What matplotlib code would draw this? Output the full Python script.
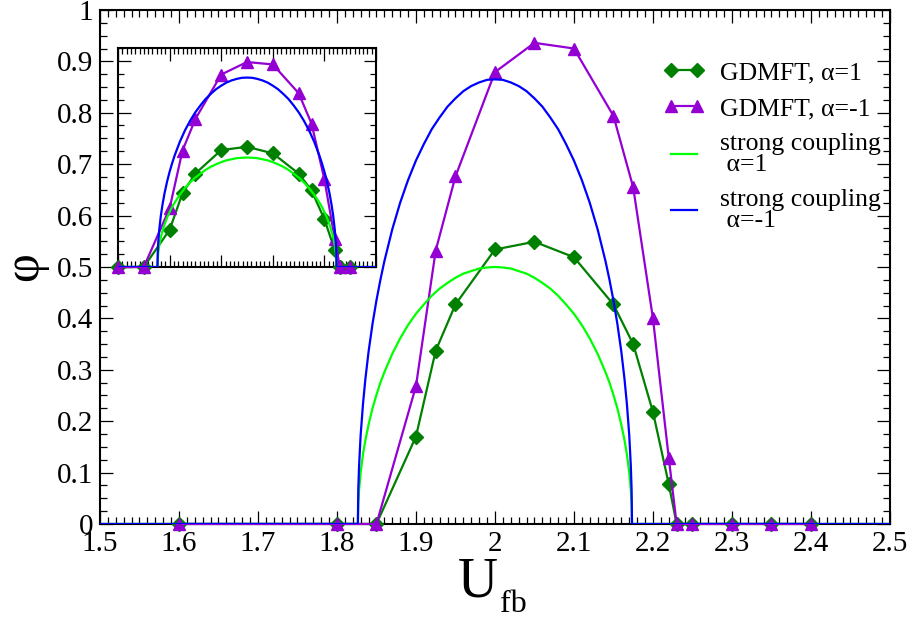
import numpy as np
import matplotlib
matplotlib.use("Agg")
import matplotlib.pyplot as plt
from matplotlib.ticker import MultipleLocator, AutoMinorLocator

plt.rcParams['font.family'] = ['Liberation Serif', 'DejaVu Serif']

# --- GDMFT data ---
u_gd = [1.6, 1.8, 1.85, 1.9, 1.925, 1.95, 2.0, 2.05, 2.1, 2.15, 2.175, 2.2, 2.22, 2.23, 2.25, 2.3, 2.35, 2.4]
phi_a1 = [0, 0, 0, 0.170, 0.337, 0.427, 0.534, 0.549, 0.519, 0.427, 0.350, 0.218, 0.078, 0, 0, 0, 0, 0]
phi_am1 = [0, 0, 0, 0.268, 0.532, 0.676, 0.879, 0.936, 0.925, 0.794, 0.655, 0.400, 0.129, 0, 0, 0, 0, 0]

# --- strong coupling curves ---
u_sc = [1.5, 1.8265, 1.827, 1.828, 1.83, 1.833, 1.836, 1.84, 1.845, 1.85, 1.855, 1.86, 1.87, 1.88, 1.89,
        1.9, 1.91, 1.92, 1.93, 1.94, 1.95, 1.96, 1.97, 1.98, 1.99, 2.0,
        2.01, 2.02, 2.03, 2.04, 2.05, 2.06, 2.07, 2.08, 2.09, 2.1, 2.11, 2.12, 2.13, 2.14, 2.145,
        2.15, 2.155, 2.16, 2.164, 2.167, 2.17, 2.172, 2.173, 2.1735, 2.5]
sc_a1 = [0, 0, 0.038, 0.066, 0.100, 0.136, 0.163, 0.193, 0.225, 0.251, 0.275, 0.295, 0.331, 0.361, 0.387,
         0.409, 0.427, 0.444, 0.458, 0.469, 0.479, 0.487, 0.492, 0.497, 0.499, 0.500,
         0.499, 0.497, 0.492, 0.487, 0.479, 0.469, 0.458, 0.444, 0.427, 0.409, 0.387, 0.361, 0.331, 0.295, 0.275,
         0.251, 0.225, 0.193, 0.163, 0.136, 0.100, 0.066, 0.038, 0, 0]
sc_am1 = [0, 0, 0.066, 0.113, 0.173, 0.234, 0.282, 0.335, 0.389, 0.435, 0.475, 0.511, 0.573, 0.625, 0.669,
          0.707, 0.739, 0.768, 0.791, 0.812, 0.828, 0.842, 0.852, 0.859, 0.864, 0.865,
          0.864, 0.859, 0.852, 0.842, 0.828, 0.812, 0.791, 0.768, 0.739, 0.707, 0.669, 0.625, 0.573, 0.511, 0.475,
          0.435, 0.389, 0.335, 0.282, 0.234, 0.173, 0.113, 0.066, 0, 0]

# inset: strong coupling shifted onto the GDMFT data
inset_shift = 0.05
inset_range = (1.8, 2.25)

c_green = '#008000'
c_violet = '#9400d3'
c_lime = '#00ff00'
c_blue = '#0000ff'

fig = plt.figure(figsize=(9.12, 6.22), dpi=100)
ax = fig.add_axes([0.1096, 0.1576, 0.8662, 0.8264])


def style_axes(a, maj=9.4, mnr=5, lw=1.5):
    for s in a.spines.values():
        s.set_linewidth(lw)
    a.tick_params(which='both', direction='in', top=True, right=True, width=0.9)
    a.tick_params(which='major', length=maj)
    a.tick_params(which='minor', length=mnr)


ax.plot(u_gd, phi_a1, color=c_green, lw=1.6, marker='D', ms=7.5, clip_on=False, zorder=3,
        label='GDMFT, α=1')
ax.plot(u_gd, phi_am1, color=c_violet, lw=1.6, marker='^', ms=9, clip_on=False, zorder=3,
        label='GDMFT, α=-1')
ax.plot(u_sc, sc_a1, color=c_lime, lw=1.6, zorder=4, label='strong coupling\n α=1')
ax.plot(u_sc, sc_am1, color=c_blue, lw=1.6, zorder=4, label='strong coupling\n α=-1')

ax.set_xlim(1.5, 2.5)
ax.set_ylim(0, 1)
ax.xaxis.set_minor_locator(AutoMinorLocator(10))
ax.yaxis.set_minor_locator(AutoMinorLocator(4))
ax.set_xticks(np.arange(1.5, 2.51, 0.1))
ax.set_xticklabels(['1.5', '1.6', '1.7', '1.8', '1.9', '2', '2.1', '2.2', '2.3', '2.4', '2.5'])
ax.set_yticks(np.arange(0, 1.01, 0.1))
ax.set_yticklabels(['0', '0.1', '0.2', '0.3', '0.4', '0.5', '0.6', '0.7', '0.8', '0.9', '1'])
style_axes(ax)
ax.tick_params(which='major', labelsize=21, pad=5)

# x label: U with subscript fb
ax.text(0.4785, -0.142, 'U', transform=ax.transAxes, fontsize=40, ha='center', va='baseline')
ax.text(0.506, -0.172, 'fb', transform=ax.transAxes, fontsize=23, ha='left', va='baseline')
ax.set_ylabel('φ', fontsize=36, rotation=90)
ax.yaxis.set_label_coords(-0.065, 0.5)

leg = ax.legend(loc='upper left', bbox_to_anchor=(0.7127, 0.9), frameon=False, fontsize=18.5,
                numpoints=2, handlelength=1.63, handletextpad=0.58, borderpad=0, borderaxespad=0,
                labelspacing=0.5)
for t in leg.get_texts():
    t.set_linespacing(0.95)

# --- inset ---
ins = fig.add_axes([0.1294, 0.5707, 0.2829, 0.3521])
u_in = [u for u in u_gd if inset_range[0] <= u <= inset_range[1]]
a1_in = [p for u, p in zip(u_gd, phi_a1) if inset_range[0] <= u <= inset_range[1]]
am1_in = [p for u, p in zip(u_gd, phi_am1) if inset_range[0] <= u <= inset_range[1]]
ins.plot(u_in, a1_in, color=c_green, lw=1.6, marker='D', ms=7.5, clip_on=False, zorder=3)
ins.plot(u_in, am1_in, color=c_violet, lw=1.6, marker='^', ms=9, clip_on=False, zorder=3)
u_sc_in = np.array(u_sc) + inset_shift
ins.plot(u_sc_in, sc_a1, color=c_lime, lw=1.6, zorder=4)
ins.plot(u_sc_in, sc_am1, color=c_blue, lw=1.6, zorder=4)
ins.set_xlim(1.8, 2.3)
ins.set_ylim(0, 1)
ins.xaxis.set_major_locator(MultipleLocator(0.1))
ins.xaxis.set_minor_locator(AutoMinorLocator(12))
ins.yaxis.set_major_locator(MultipleLocator(0.235))
ins.yaxis.set_minor_locator(AutoMinorLocator(4))
ins.set_xticklabels([])
ins.set_yticklabels([])
style_axes(ins, maj=9, mnr=4.5, lw=1.5)

fig.savefig('out.png', dpi=100)
